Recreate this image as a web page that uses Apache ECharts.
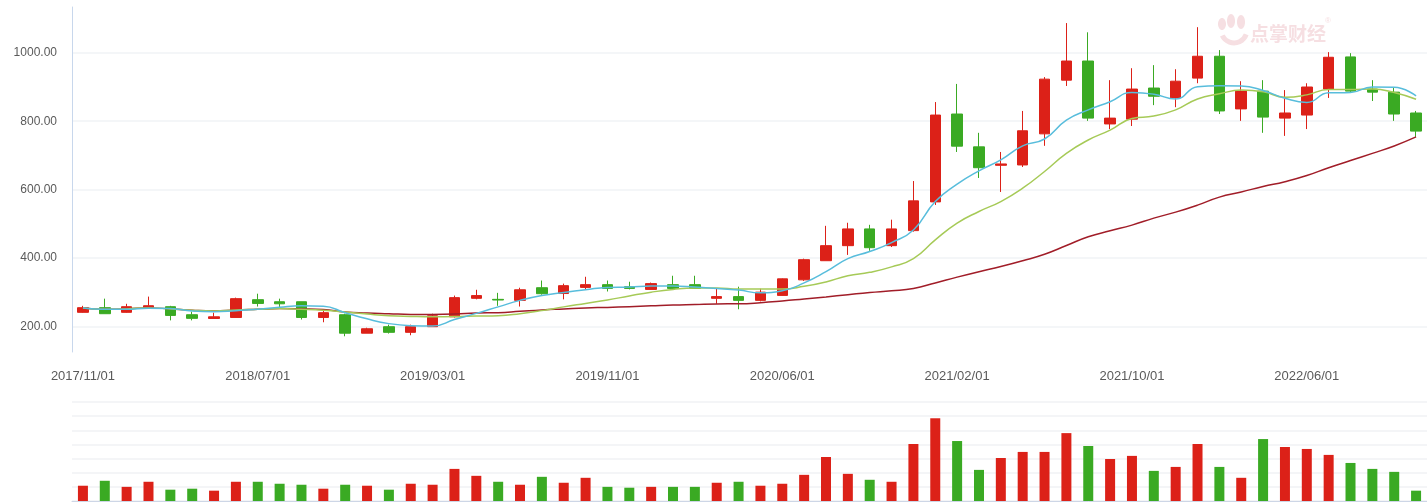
<!DOCTYPE html>
<html>
<head>
<meta charset="utf-8">
<script src="https://cdn.jsdelivr.net/npm/echarts/dist/echarts.min.js"></script>
<style>
html,body{margin:0;padding:0;background:#ffffff;}
#chart{width:1427px;height:502px;}
</style>
</head>
<body>
<div id="chart"></div>
<script>
// ---------- data ----------
const categories = [
  '2017/11/01','2017/12/01','2018/01/01','2018/02/01','2018/03/01','2018/04/01','2018/05/01','2018/06/01',
  '2018/07/01','2018/08/01','2018/09/01','2018/10/01','2018/11/01','2018/12/01','2019/01/01','2019/02/01',
  '2019/03/01','2019/04/01','2019/05/01','2019/06/01','2019/07/01','2019/08/01','2019/09/01','2019/10/01',
  '2019/11/01','2019/12/01','2019/12/31','2020/01/01','2020/02/01','2020/03/01','2020/04/01','2020/05/01',
  '2020/06/01','2020/07/01','2020/08/01','2020/09/01','2020/10/01','2020/11/01','2020/12/01','2021/01/01',
  '2021/02/01','2021/03/01','2021/04/01','2021/05/01','2021/06/01','2021/07/01','2021/08/01','2021/09/01',
  '2021/10/01','2021/11/01','2021/12/01','2022/01/01','2022/02/01','2022/03/01','2022/04/01','2022/05/01',
  '2022/06/01','2022/07/01','2022/08/01','2022/09/01','2022/10/01','2022/11/01'
];
const openV  = [241,254.6,241,254.6,257.5,234,223,226,278,272,272,226,234,180,199,182.5,199,228,282,279,276,313,296,314,322,316,308,322,322,282,287,276,290.5,336,392,436,485,436,480,564,821,725,671,672,763,920,976,792,806,897,868,926,990,836,888,809,818,894,988,894,885,824];
const closeV = [254.6,237,257.5,260.4,232,223.4,228,281,267,266,226,240,180,193,182.5,199,231,284,290,277,307,295.5,319,322,311,311,325,311,311,287,276,300,339,395,436,485,430,485,567,818,727,664,675,772,923,976,809,809,894,873,917,990,830,888,812,824,900,987,888,885,821,771];
const lowV   = [240,237,240,254,217.5,217.5,223,226,258,252,220,212,171,180,179,174,199,226,279,260,258,292.6,279,308,302,308,308,308,311,266,250,273,290,333,392,409,421,432,477,555,710,634,593,666,728,903,801,777,786,847,841,911,821,801,766,757,777,868,885,859,801,754];
const highV  = [260,281,266,287,260,243,240,284,295.5,281,272,246,237,196,205,205,237,290,307,298,313,334,325,345,334,330.5,328,348,348,310,316,310,340,398,494,503,497,512,625,856,909,766,710,830,929,1087,1060,920,955,964,952,1075,1008,917,920,891,911,1002,999,920,897,830];
const ma5  = [254,250,250,253,252,245,243,246,250,256,260,259,240,222,208,202,201,220,238,257,276,290,299,307,314,315,318,318,315,311,306,298,304,327,360,398,419,445,482,565,616,655,687,728,748,803,833,857,884,879,865,901,904,903,890,867,855,883,884,900,899,874];
const ma10 = [254,250,251,254,251,247,245,248,250,252,250,247,242,236,231,229,228,228.5,230,231,237,246,257,267,277,289,300,308,312,312,309,309,309,317,330,348,358,374,398,453,502,536,565,604,653,706,745,774,808,815,833,865,880,891,886,870,877,893,893,894,884,864];
const ma30 = [254,250,251,254,251,247,245,248,250,252,251,249,242,239,237,235,235,236,239,240,244,248,251,254,255.5,257.5,260,262.5,264,265.5,266,269,274,280,286,292.6,299,304,311,327,344,360,375,392,411,436.5,462,479.5,496,516.5,534,554.5,578,593,609,623,641,664,685,706,727.6,754];
const volume = [1.08,1.43,1.0,1.36,0.8,0.87,0.73,1.36,1.36,1.22,1.15,0.87,1.15,1.08,0.8,1.22,1.15,2.27,1.78,1.36,1.15,1.71,1.29,1.64,1.0,0.94,1.0,1.0,1.0,1.29,1.36,1.08,1.22,1.85,3.11,1.92,1.5,1.36,4.03,5.85,4.24,2.2,3.04,3.47,3.47,4.8,3.89,2.97,3.19,2.13,2.41,4.03,2.41,1.64,4.38,3.82,3.68,3.26,2.69,2.27,2.06,0.73];

// ---------- build ----------
const upColor = '#dc2118';
const downColor = '#3aaa23';
const kData = categories.map((c, i) => [openV[i], closeV[i], lowV[i], highV[i]]);
const volData = volume.map((v, i) => ({
  value: v,
  itemStyle: { color: closeV[i] >= openV[i] ? upColor : downColor }
}));

const chart = echarts.init(document.getElementById('chart'), null, { renderer: 'canvas' });
const lineCommon = { type: 'line', xAxisIndex: 0, yAxisIndex: 0, smooth: true, showSymbol: false, symbol: 'none', silent: true, z: 3 };
const wm = '#f6dfe2';

chart.setOption({
  animation: false,
  backgroundColor: '#ffffff',
  grid: [
    { left: 72, right: 0, top: 7, bottom: 150 },
    { left: 72, right: 0, top: 402, bottom: 1 }
  ],
  xAxis: [
    {
      type: 'category', gridIndex: 0, data: categories, boundaryGap: true,
      axisLine: { show: false }, axisTick: { show: false }, splitLine: { show: false },
      axisLabel: { interval: 7, color: '#5a5a5a', fontSize: 13, margin: 18, fontFamily: 'Liberation Sans, Arial, sans-serif' }
    },
    {
      type: 'category', gridIndex: 1, data: categories, boundaryGap: true,
      axisLine: { show: true, lineStyle: { color: '#cdd6e6', width: 1 } },
      axisTick: { show: false }, axisLabel: { show: false }, splitLine: { show: false }
    }
  ],
  yAxis: [
    {
      type: 'value', gridIndex: 0, min: 125, max: 1134,
      axisLine: { show: true, lineStyle: { color: '#c8d7ec', width: 1 } },
      axisTick: { show: false },
      axisLabel: {
        color: '#5a5a5a', fontSize: 12, margin: 15, fontFamily: 'Liberation Sans, Arial, sans-serif',
        showMinLabel: false, showMaxLabel: false,
        formatter: v => v.toFixed(2)
      },
      splitLine: { show: true, showMinLine: false, showMaxLine: false, lineStyle: { color: '#f1f3f6', width: 1.5 } }
    },
    {
      type: 'value', gridIndex: 1, min: 0, max: 7, interval: 1,
      axisLine: { show: false }, axisTick: { show: false }, axisLabel: { show: false },
      splitLine: { show: true, lineStyle: { color: '#f0f2f5', width: 1.5 } }
    }
  ],
  series: [
    {
      type: 'candlestick', name: 'K', xAxisIndex: 0, yAxisIndex: 0, data: kData,
      barWidth: 11, z: 2,
      itemStyle: { color: upColor, color0: downColor, borderColor: upColor, borderColor0: downColor, borderWidth: 1 }
    },
    Object.assign({}, lineCommon, { name: 'MA30', data: ma30, lineStyle: { color: '#a11d28', width: 1.5 } }),
    Object.assign({}, lineCommon, { name: 'MA10', data: ma10, lineStyle: { color: '#a6ca57', width: 1.5 } }),
    Object.assign({}, lineCommon, { name: 'MA5', data: ma5, lineStyle: { color: '#58bddc', width: 1.5 } }),
    {
      type: 'bar', name: 'VOL', xAxisIndex: 1, yAxisIndex: 1, data: volData, barWidth: 10, silent: true
    }
  ],
  graphic: [
    { type: 'ellipse', shape: { cx: 1222, cy: 24, rx: 4, ry: 6 }, rotation: 0, style: { fill: wm }, silent: true, z: 0 },
    { type: 'ellipse', shape: { cx: 1231, cy: 21, rx: 4, ry: 7 }, style: { fill: wm }, silent: true, z: 0 },
    { type: 'ellipse', shape: { cx: 1241, cy: 22, rx: 4, ry: 7 }, style: { fill: wm }, silent: true, z: 0 },
    { type: 'arc', shape: { cx: 1234, cy: 30, r: 13, startAngle: 0.35, endAngle: 2.7 }, style: { stroke: wm, lineWidth: 5, fill: null }, silent: true, z: 0 },
    { type: 'text', left: 1250, top: 24, style: { text: '点掌财经', fill: wm, font: 'bold 19px "Noto Sans CJK SC", sans-serif' }, silent: true, z: 0 },
    { type: 'text', left: 1325, top: 17, style: { text: '®', fill: wm, font: '8px sans-serif' }, silent: true, z: 0 }
  ]
});
</script>
</body>
</html>
